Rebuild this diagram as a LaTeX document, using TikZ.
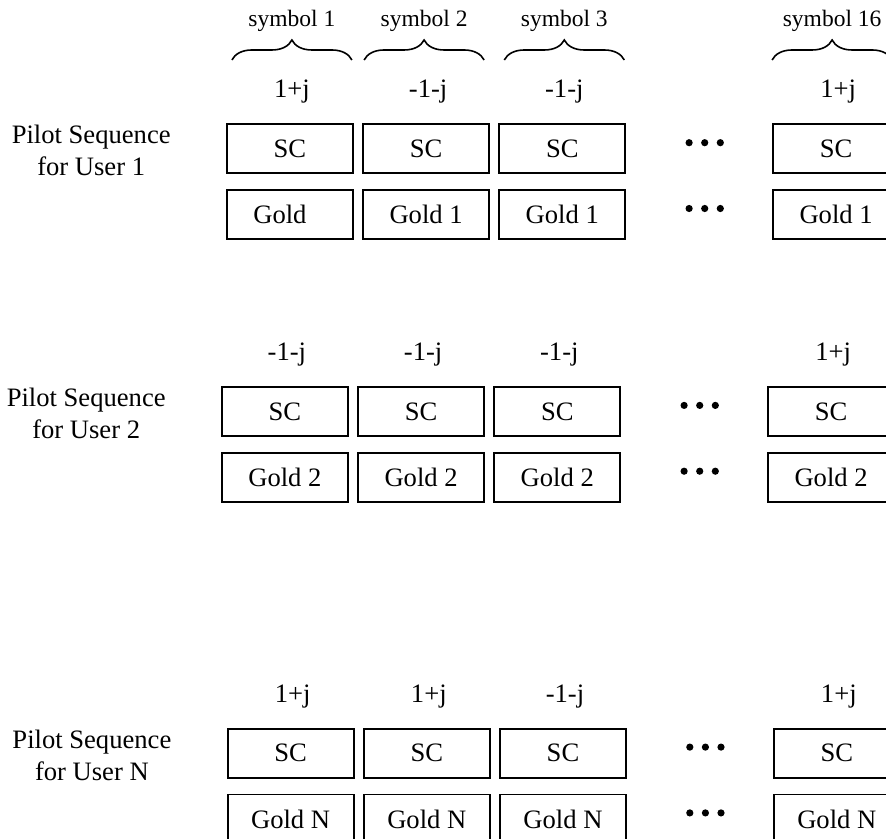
\documentclass[tikz,border=0pt]{standalone}
\usepackage{fontspec}
\setmainfont{Liberation Serif}
\usetikzlibrary{positioning,chains,decorations.pathreplacing}

\begin{document}
\begin{tikzpicture}[txt/.style={font=\fontsize{13.3}{16}\selectfont},
    box/.style={txt,draw,line width=0.9pt,minimum width=63pt,
      minimum height=24.5pt,inner sep=0pt},
    boxc/.style={box,on chain},
    val/.style={txt,anchor=base,inner sep=0pt},
    usr/.style={txt,align=center,inner sep=0pt},
    sym/.style={anchor=base,inner sep=0pt,font=\fontsize{11.75}{14}\selectfont},
    brc/.style={decorate,decoration={brace,amplitude=10pt},line width=0.8pt}]
  \useasboundingbox (0,0) rectangle (443pt,-419pt);
  % one row per user
  \foreach \R/\X/\Y/\U/\GA/\GB/\Va/\Vb/\Vc/\Vd in
    {1/113/-61.65/1/{Gold\hphantom{~1}}/{Gold 1}/1+j/-1-j/-1-j/1+j,
     2/110.5/-193/2/{Gold 2}/{Gold 2}/-1-j/-1-j/-1-j/1+j,
     3/113.35/-363.85/N/{Gold N}/{Gold N}/1+j/1+j/-1-j/1+j}
  {
    \begin{scope}[start chain=going right,node distance=4.2pt]
      \node[boxc,anchor=north west] (sc\R1) at (\X pt,\Y pt) {SC};
      \node[boxc] (sc\R2) {SC};
      \node[boxc] (sc\R3) {SC};
    \end{scope}
    \node[box,right=73pt of sc\R3] (sc\R4) {SC};
    \node[box,below=7.5pt of sc\R1] (gd\R1) {\GA};
    \foreach \C in {2,3,4}
      \node[box,below=7.5pt of sc\R\C] (gd\R\C) {\GB};
    \foreach \C/\V in {1/\Va,2/\Vb,3/\Vc,4/\Vd}
      \node[val] (val\R\C) at ([xshift=1pt,yshift=12.75pt]sc\R\C.north) {\V};
    \node[usr,left=27.5pt of sc\R1,yshift=-1pt] (usr\R)
      {Pilot Sequence\\for User \U};
    \foreach \B in {sc,gd}
      {\path ([xshift=39.25pt,yshift=3pt]\B\R3.east) coordinate (dt\B\R);
       \foreach \D in {-1,0,1}
         \fill ([xshift=\D*7.8pt]dt\B\R) circle (1.8pt);}
  }
  % braces over the first row
  \foreach \C/\S/\D in {1/1/1,2/2/-1,3/3/1,4/16/-2}
    {\path ([xshift=\D pt,yshift=31.65pt]sc1\C.north) coordinate (bm\C);
     \draw[brc] ([xshift=-30pt]bm\C) -- ([xshift=30pt]bm\C);
     \node[sym] (sym\C) at ([yshift=16.5pt]bm\C) {symbol \S};}
\end{tikzpicture}
\end{document}
